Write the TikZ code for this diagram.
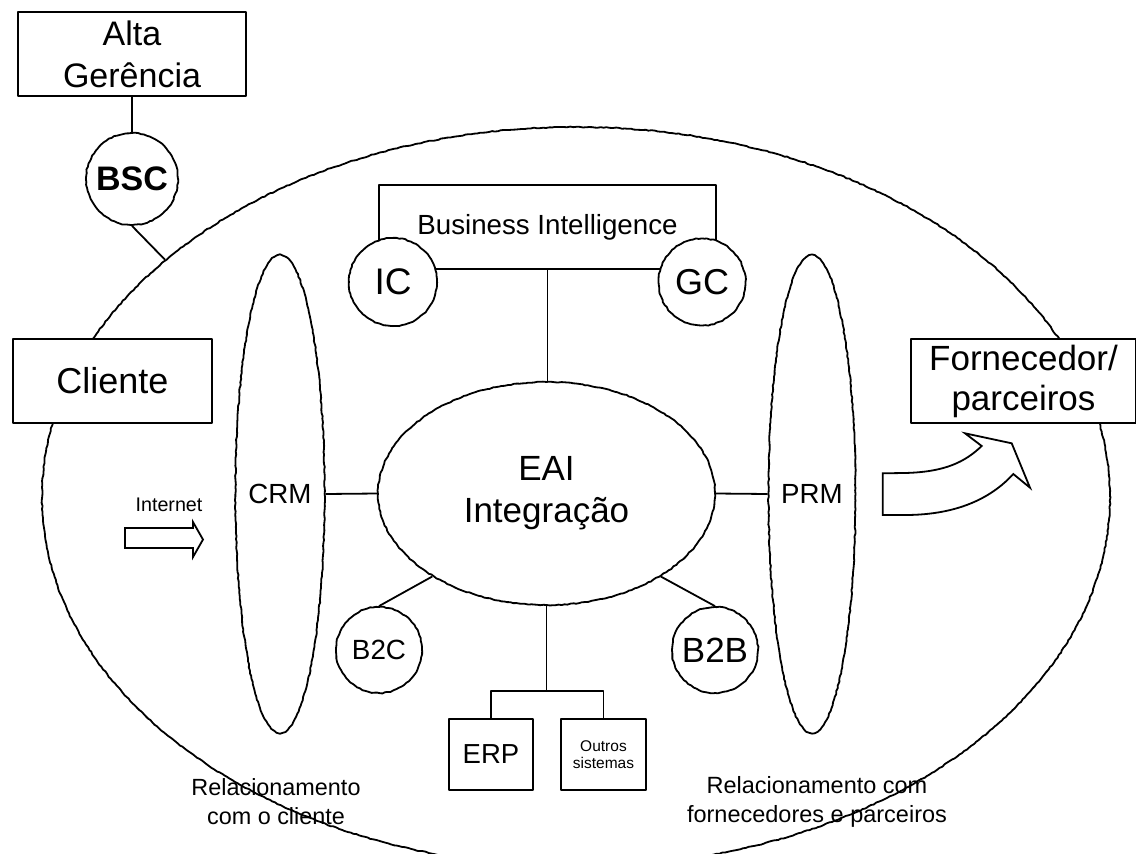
\documentclass[tikz,border=0pt]{standalone}
\usepackage{fontspec}
\setmainfont{Liberation Sans}
\usetikzlibrary{shapes.geometric,decorations.pathmorphing}
\newcommand{\fsz}[2]{\fontsize{#1}{#2}\selectfont}

\begin{document}
\begin{tikzpicture}[x=1pt,y=-1pt,line width=1.8pt,line join=round,
  box/.style={draw, rectangle, inner sep=0pt, align=center, fill=white},
  wobble/.style={decorate, decoration={random steps, segment length=3pt, amplitude=0.5pt}},
  bubble/.style={draw, circle, fill=white, inner sep=0pt, minimum size=#1, wobble},
  oval/.style={draw, ellipse, inner sep=0pt, align=center, wobble},
  label/.style={align=center, inner sep=0pt},
]
\pgfmathsetseed{7}
\useasboundingbox (0,0) rectangle (1136,854);
\clip (0,0) rectangle (1136,854);

% outer enterprise ellipse
\node[oval, minimum width=1068pt, minimum height=740pt] (outer) at (576,497) {};

% management and balanced scorecard
\node[box, minimum width=228pt, minimum height=84pt, font=\fsz{34}{42}] (alta) at (132,54) {Alta\\Gerência};
\node[bubble=92pt, font=\fsz{34}{40}\bfseries] (bsc) at (132,179) {BSC};
\draw (alta.south) -- (bsc.north);
\draw (bsc.south) -- (outer.150);

% customer and supplier boxes
\node[box, minimum width=199pt, minimum height=84pt, font=\fsz{36}{40}] (cliente) at (112.5,381) {Cliente};
\node[box, minimum width=225pt, minimum height=84pt, font=\fsz{35}{40}] (forn) at (1023.5,381) {Fornecedor/\\parceiros};

% business intelligence block
\node[box, fill=none, minimum width=337pt, minimum height=84pt, font=\fsz{27.7}{30}] (bi) at (547.5,227) {Business Intelligence};
\node[bubble=88pt, font=\fsz{37}{40}] (ic) at (393,282) {IC};
\node[bubble=87pt, font=\fsz{36}{40}] (gc) at (702,282) {GC};

% integration hub
\node[oval, fill=white, minimum width=337pt, minimum height=223pt, font=\fsz{35}{42}] (eai) at (546.5,493.5) {EAI\\Integração};
\draw (bi.south) -- (bi.south |- eai.north);

% relationship management ovals
\node[oval, minimum width=83pt, minimum height=478pt, font=\fsz{27.7}{30}] (crm) at (280,494) {CRM};
\node[oval, minimum width=83pt, minimum height=478pt, font=\fsz{27.7}{30}] (prm) at (812,494) {PRM};
\draw (crm.east) -- (eai.west);
\draw (eai.east) -- (prm.west);

% e-commerce bubbles
\node[bubble=86pt, font=\fsz{27.8}{30}] (b2c) at (379,650) {B2C};
\node[bubble=86pt, font=\fsz{35}{40}] (b2b) at (715,650) {B2B};
\draw (eai.216) -- (b2c.north);
\draw (eai.-36) -- (b2b.north);

% back-office systems
\node[box, minimum width=84pt, minimum height=71pt, font=\fsz{27.5}{30}] (erp) at (491,754.5) {ERP};
\node[box, minimum width=85pt, minimum height=71pt, font=\fsz{15.5}{17}] (outros) at (603.5,754.5) {Outros\\sistemas};
\coordinate (split) at (546.5,691);
\draw (eai.south) -- (split);
\draw (erp.north) |- (split) -| (outros.north);

% internet arrow
\node[label, font=\fsz{19.7}{22}] (internet) at (169,505) {Internet};
\draw[line join=miter] (125,528) -- (193,528) -- (193,522) -- (203,539.5) -- (193,557) -- (193,548) -- (125,548) -- cycle;

% curved arrow towards suppliers
\draw[line join=miter] (882.7,473.3) -- (905,473) .. controls (945,472) and (965,462) .. (981.7,446)
  -- (965,433.3) -- (1011.7,443.3) -- (1030,487.7) -- (1013.3,474)
  .. controls (985,505) and (945,515) .. (905,515) -- (882.7,515) -- cycle;

% relationship captions
\node[label, font=\fsz{23.4}{29}] (relcli) at (276,802) {Relacionamento\\com o cliente};
\node[label, font=\fsz{23.5}{29}] (relforn) at (817,802) {Relacionamento com\\fornecedores e parceiros};
\end{tikzpicture}
\end{document}
